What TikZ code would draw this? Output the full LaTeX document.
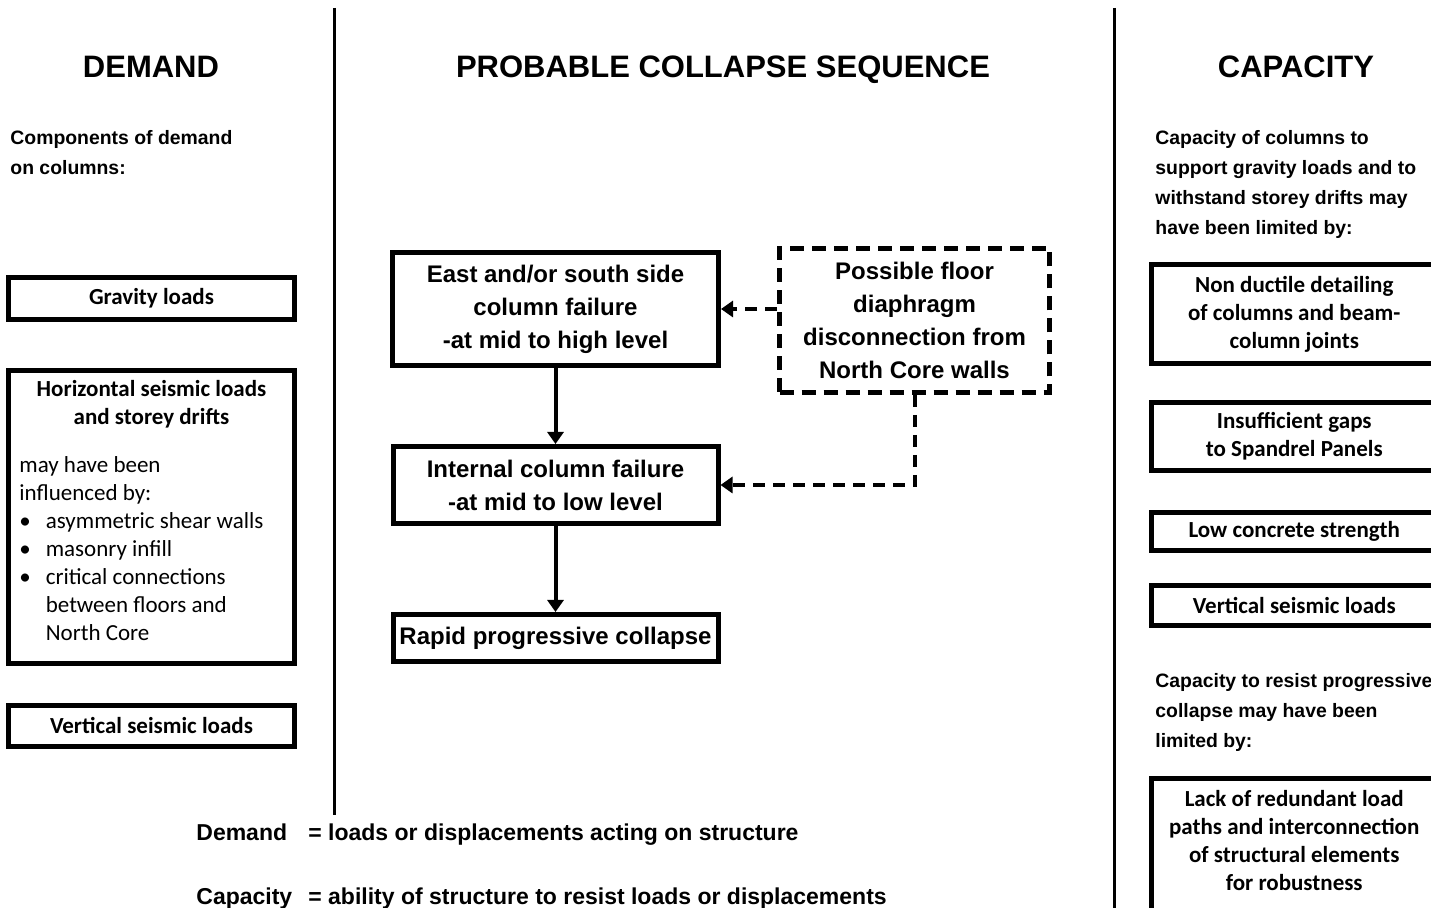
\documentclass[tikz,border=0pt]{standalone}
\usepackage{fontspec}
\setmainfont{Carlito}
\newfontfamily\headfont{Liberation Sans}
\usetikzlibrary{arrows.meta, positioning}
\tikzset{
    boxnode/.style = {draw, rectangle, line width=2.5pt, inner sep=0pt, align=center,
      font=\fontsize{11.5}{14}\selectfont\bfseries},
    stepnode/.style = {draw, rectangle, line width=2.5pt, inner sep=0pt, align=center,
      font=\headfont\fontsize{12}{16.5}\selectfont\bfseries},
    dashnode/.style = {stepnode, dash pattern=on 7pt off 4pt},
    textnode/.style = {draw=none, fill=none, inner sep=0pt, align=left,
      font=\headfont\fontsize{9.7}{15}\selectfont\bfseries},
    bodynode/.style = {draw=none, fill=none, inner sep=0pt, align=left,
      font=\fontsize{11.5}{14}\selectfont},
    headnode/.style = {draw=none, fill=none, inner sep=0pt, anchor=base,
      font=\headfont\fontsize{15.5}{18}\selectfont\bfseries},
    keynode/.style = {draw=none, fill=none, inner sep=0pt, anchor=base west,
      font=\headfont\fontsize{11.5}{14}\selectfont\bfseries},
    connect/.style = {black, line width=2pt, -{Triangle[length=6pt,width=8pt]}},
    dashconnect/.style = {connect, dash pattern=on 6pt off 4pt},
    divider/.style = {black, line width=1.5pt}
}

\begin{document}
\begin{tikzpicture}[x=0.5pt, y=-0.5pt]
    \useasboundingbox (0,0) rectangle (1431,908);
    \fill[white] (0,0) rectangle (1431,908);
    \clip (0,0) rectangle (1431,908);

    % column dividers
    \draw [divider] (334,8) -- (334,815);
    \draw [divider] (1114,8) -- (1114,915);

    % headings
    \node [name=demandhead, headnode] at (151,78) {DEMAND};
    \node [name=seqhead, headnode] at (723,78) {PROBABLE COLLAPSE SEQUENCE};
    \node [name=caphead, headnode] at (1296,78) {CAPACITY};

    % demand side
    \node [name=demandintro, textnode, anchor=north west] at (10,130)
        {Components of demand\\on columns:};

    \node [name=gravity, boxnode, minimum width=143pt, minimum height=21pt]
        at (151.5,298.5) {Gravity loads};
    \node [name=horiz, boxnode, minimum width=143pt, minimum height=146.5pt]
        at (151.5,517) {};
    \node [name=horiztitle, boxnode, draw=none, below=5pt of horiz.north]
        {Horizontal seismic loads\\and storey drifts};
    \node [name=horizbody, bodynode, anchor=base west] at (19,473) {%
        \begin{tabular}[t]{@{}l@{\hspace{7.5pt}}l@{}}
        \multicolumn{2}{@{}l}{may have been}\\
        \multicolumn{2}{@{}l}{influenced by:}\\
        \textbullet & asymmetric shear walls\\
        \textbullet & masonry infill\\
        \textbullet & critical connections\\
                    & between floors and\\
                    & North Core
        \end{tabular}};
    \node [name=vertdemand, boxnode, minimum width=143pt, minimum height=20.5pt]
        at (151.5,726) {Vertical seismic loads};

    % collapse sequence
    \node [name=east, stepnode, minimum width=163pt, minimum height=56.5pt]
        at (555.5,309) {East and/or south side\\column failure\\-at mid to high level};
    \node [name=internal, stepnode, minimum width=162.5pt, minimum height=38.5pt,
        below=38pt of east] {Internal column failure\\-at mid to low level};
    \node [name=rapid, stepnode, minimum width=162.5pt, minimum height=23.5pt,
        below=43pt of internal] {Rapid progressive collapse};
    \node [name=floor, dashnode, minimum width=135pt, minimum height=72pt]
        at (914.5,320.5) {Possible floor\\diaphragm\\disconnection from\\North Core walls};

    \draw [connect] (east) -- (internal);
    \draw [connect] (internal) -- (rapid);
    \draw [dashconnect] (floor.west |- east.east) -- (east.east);
    \draw [dashconnect] (floor.south) |- (internal.east);

    % definitions
    \node [name=demandkey, keynode] at (196,841) {Demand};
    \node [name=demanddef, keynode] at (308,841) {= loads or displacements acting on structure};
    \node [name=capkey, keynode] at (196,905) {Capacity};
    \node [name=capdef, keynode] at (308,905) {= ability of structure to resist loads or displacements};

    % capacity side
    \node [name=capintro, textnode, anchor=north west] at (1155,130)
        {Capacity of columns to\\support gravity loads and to\\withstand storey drifts may\\have been limited by:};

    \node [name=ductile, boxnode, minimum width=142.75pt, minimum height=49.5pt]
        at (1294.25,314) {Non ductile detailing\\of columns and beam-\\column joints};
    \node [name=gaps, boxnode, minimum width=142.75pt, minimum height=34pt]
        at (1294.25,436.5) {Insufficient gaps\\to Spandrel Panels};
    \node [name=concrete, boxnode, minimum width=142.75pt, minimum height=19pt]
        at (1294.25,531.5) {Low concrete strength};
    \node [name=vertcap, boxnode, minimum width=142.75pt, minimum height=20pt]
        at (1294.25,605.5) {Vertical seismic loads};

    \node [name=robustintro, textnode, anchor=north west] at (1155,673)
        {Capacity to resist progressive\\collapse may have been\\limited by:};

    \node [name=robust, boxnode, minimum width=142.75pt, minimum height=70pt]
        at (1294.25,848.5) {};
    \node [name=robusttext, boxnode, draw=none] at (1294.25,840.5)
        {Lack of redundant load\\paths and interconnection\\of structural elements\\for robustness};
\end{tikzpicture}
\end{document}
